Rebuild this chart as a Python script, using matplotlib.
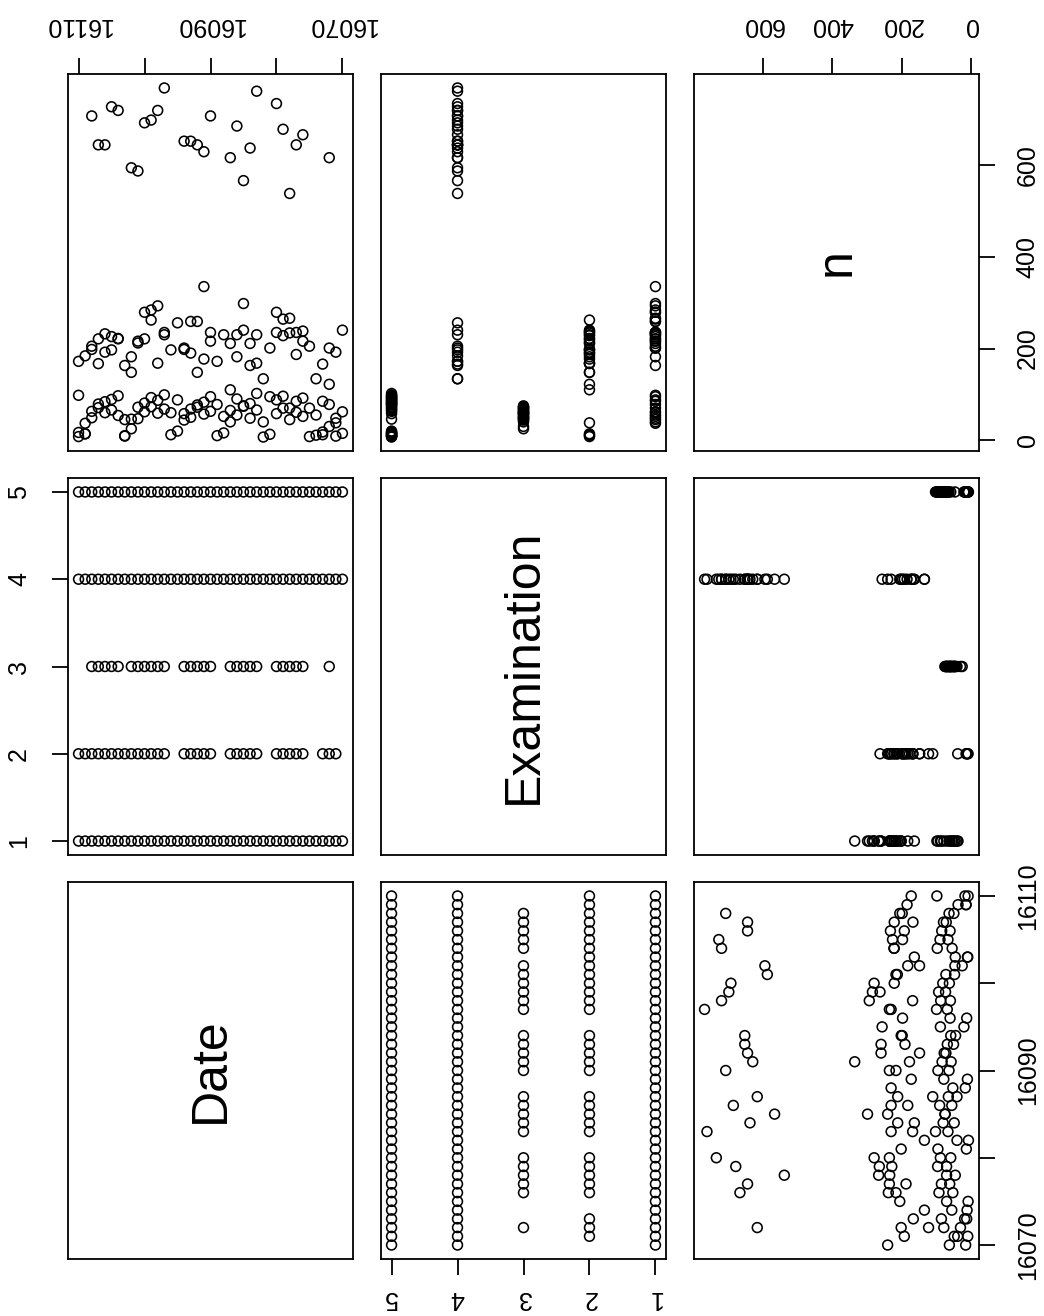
import matplotlib
matplotlib.use("Agg")
import matplotlib.pyplot as plt

plt.rcParams['font.family'] = ['Liberation Sans', 'DejaVu Sans']

# ---- data: daily counts n per examination type over a run of dates ----
all_days = list(range(16070, 16111))

exam1_dates = all_days
exam1_n = [62, 48, 201, 85, 55, 70, 216, 235, 266, 264, 279, 95, 40, 230, 163,
           298, 230, 211, 52, 78, 235, 335, 259, 259, 201, 88, 60, 235, 293, 284,
           279, 216, 182, 45, 221, 226, 232, 221, 205, 37, 98]

exam2_dates = [16071, 16072, 16073,
               16076, 16077, 16078, 16079, 16080,
               16083, 16084, 16085, 16086, 16087,
               16090, 16091, 16092, 16093, 16094,
               16097, 16098, 16099, 16100, 16101, 16102, 16103,
               16104, 16105, 16106, 16107, 16108, 16109, 16110]
exam2_n = [38, 122, 12,
           238, 187, 234, 228, 235,
           168, 211, 240, 182, 110,
           216, 177, 148, 190, 198,
           230, 168, 262, 221, 212, 148, 10,
           222, 197, 192, 167, 198, 14, 8]

exam3_dates = [16072,
               16076, 16077, 16078, 16079, 16080,
               16083, 16084, 16085, 16086, 16087,
               16090, 16091, 16092, 16093, 16094,
               16097, 16098, 16099, 16100, 16101, 16102,
               16104, 16105, 16106, 16107, 16108]
exam3_n = [30,
           52, 61, 45, 70, 58,
           66, 48, 75, 55, 40,
           63, 57, 72, 50, 44,
           68, 59, 73, 62, 47, 25,
           54, 66, 60, 71, 49]

exam4_dates = all_days
exam4_n = [240, 192, 616, 166, 134, 205, 666, 644, 538, 678, 734, 201, 134, 761,
           637, 566, 685, 616, 230, 172, 707, 629, 644, 652, 652, 256, 197, 768,
           719, 698, 692, 587, 594, 163, 719, 727, 644, 644, 707, 184, 172]

exam5_dates = all_days
exam5_n = [15, 9, 78, 18, 11, 8, 92, 85, 70, 96, 88, 13, 7, 102, 80, 74, 90, 65,
           16, 10, 95, 83, 77, 68, 58, 20, 12, 99, 87, 93, 81, 72, 46, 9, 97, 89,
           84, 79, 63, 14, 17]

var_names = ["Date", "Examination", "n"]

# long-format columns
date_col, exam_col, n_col = [], [], []
for ex, (ds, ns) in enumerate([(exam1_dates, exam1_n), (exam2_dates, exam2_n),
                               (exam3_dates, exam3_n), (exam4_dates, exam4_n),
                               (exam5_dates, exam5_n)], start=1):
    date_col += list(ds)
    exam_col += [ex] * len(ds)
    n_col += list(ns)
columns = [date_col, exam_col, n_col]


def padded(v):
    lo, hi = min(v), max(v)
    p = 0.04 * (hi - lo)
    return lo - p, hi + p


limits = [padded(v) for v in columns]

# ---- layout (pixels) ----
W, H = 1044, 1316
fig = plt.figure(figsize=(W / 100, H / 100), dpi=100)
col_left = [68, 381, 694]
row_top = [74, 478, 882]
pw, ph = 285, 377

TICK_FS = 18
TICK_LEN = 11.5
TICK_PAD = 15
LW = 1.3

date_ticks = [16070, 16080, 16090, 16100, 16110]
date_labels = ["16070", "", "16090", "", "16110"]
exam_ticks = [1, 2, 3, 4, 5]
n_ticks = [0, 200, 400, 600]

axes = {}
for r in range(3):
    for c in range(3):
        ax = fig.add_axes([col_left[c] / W, 1 - (row_top[r] + ph) / H, pw / W, ph / H])
        axes[(r, c)] = ax
        xv, yv = c, 2 - r
        ax.set_xlim(limits[xv][1], limits[xv][0])
        ax.set_ylim(limits[yv][0], limits[yv][1])
        ax.set_xticks([])
        ax.set_yticks([])
        for s in ax.spines.values():
            s.set_linewidth(LW)
        if xv == yv:
            ax.text(0.5, 0.5, var_names[xv], transform=ax.transAxes, rotation=90,
                    ha="center", va="center", fontsize=36)
        else:
            ax.scatter(columns[xv], columns[yv], s=50, facecolors="none",
                       edgecolors="black", linewidths=1.15, zorder=3)
        ax.tick_params(direction="out", length=TICK_LEN, width=LW, pad=TICK_PAD,
                       labelsize=TICK_FS)

# top axis: Date over the left column
ax = axes[(0, 0)]
ax.xaxis.tick_top()
ax.set_xticks(date_ticks)
ax.set_xticklabels(date_labels, rotation=180, ha="center", va="bottom")

# top axis: n over the right column, right axis: n beside the top row
ax = axes[(0, 2)]
ax.xaxis.tick_top()
ax.set_xticks(n_ticks)
ax.set_xticklabels([str(t) for t in n_ticks], rotation=180, ha="center", va="bottom")
ax.yaxis.tick_right()
ax.set_yticks(n_ticks)
ax.set_yticklabels([str(t) for t in n_ticks], rotation=90, ha="left", va="center")

# left axis: Examination beside the middle row
ax = axes[(1, 0)]
ax.set_yticks(exam_ticks)
ax.set_yticklabels([str(t) for t in exam_ticks], rotation=90, ha="right", va="center")

# bottom axis: Examination under the middle column
ax = axes[(2, 1)]
ax.set_xticks(exam_ticks)
ax.set_xticklabels([str(t) for t in exam_ticks], rotation=180, ha="center", va="top")
ax.tick_params(axis="x", pad=8)

# right axis: Date beside the bottom row
ax = axes[(2, 2)]
ax.yaxis.tick_right()
ax.set_yticks(date_ticks)
ax.set_yticklabels(date_labels, rotation=90, ha="left", va="center")

fig.savefig("out.png", dpi=100, facecolor="white")
